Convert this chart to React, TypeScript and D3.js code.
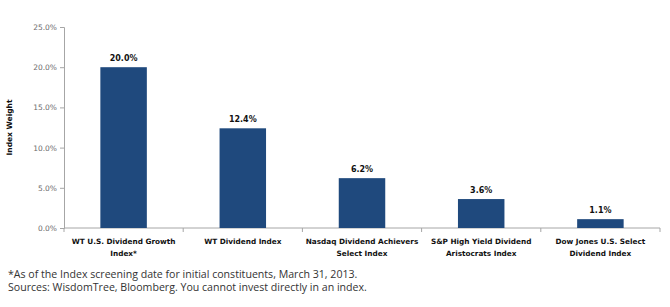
import { useEffect, useRef } from "react";
import * as d3 from "d3";

// index weights, percent
const categories = [
  ["WT U.S. Dividend  Growth", "Index*"],
  ["WT Dividend  Index"],
  ["Nasdaq Dividend  Achievers", "Select Index"],
  ["S&P High Yield Dividend", "Aristocrats Index"],
  ["Dow Jones U.S. Select", "Dividend Index"],
];
const weights = [20.0, 12.4, 6.2, 3.6, 1.1];
const yTicks = [0, 5, 10, 15, 20, 25];
const footnotes = [
  "*As of the Index screening date for initial constituents, March 31, 2013.",
  "Sources: WisdomTree, Bloomberg. You cannot invest directly in an index.",
];

function App() {
  const svgRef = useRef<SVGSVGElement>(null);

  useEffect(() => {
    const w = 670;
    const h = 307;
    const left = 64;
    const right = 660;
    const top = 27;
    const bottom = 228;
    const font = "'DejaVu Sans', sans-serif";

    const svg = d3.select(svgRef.current).attr("width", w).attr("height", h);
    svg.selectAll("*").remove();
    svg.append("rect").attr("width", w).attr("height", h).attr("fill", "#fff");

    const x = d3
      .scaleBand()
      .domain(categories.map((_, i) => String(i)))
      .range([left, right])
      .paddingInner(0.61)
      .paddingOuter(0.305);
    const y = d3.scaleLinear().domain([0, 25]).range([bottom, top]);

    // y axis
    const yAxis = d3
      .axisLeft(y)
      .tickValues(yTicks)
      .tickSize(4)
      .tickFormat((d) => `${(+d).toFixed(1)}%`);
    const gy = svg.append("g").attr("transform", `translate(${left},0)`).call(yAxis);
    gy.select(".domain").attr("stroke", "#a6a6a6");
    gy.selectAll(".tick line").attr("stroke", "#a6a6a6");
    gy.selectAll(".tick text")
      .attr("fill", "#6b6b6b")
      .attr("font-size", 7.5)
      .attr("font-family", font)
      .attr("x", -7);

    // x axis with boundary ticks
    svg
      .append("line")
      .attr("x1", left)
      .attr("x2", right)
      .attr("y1", bottom)
      .attr("y2", bottom)
      .attr("stroke", "#a6a6a6");
    const step = x.step();
    const boundaries = d3.range(categories.length + 1).map((i) => left + i * step);
    svg
      .append("g")
      .selectAll("line")
      .data(boundaries)
      .join("line")
      .attr("x1", (d) => d)
      .attr("x2", (d) => d)
      .attr("y1", bottom)
      .attr("y2", bottom + 4)
      .attr("stroke", "#a6a6a6");

    // bars
    svg
      .append("g")
      .selectAll("rect")
      .data(weights)
      .join("rect")
      .attr("x", (_, i) => x(String(i))!)
      .attr("width", x.bandwidth())
      .attr("y", (d) => y(d))
      .attr("height", (d) => bottom - y(d))
      .attr("fill", "#1f497d");

    // value labels
    svg
      .append("g")
      .selectAll("text")
      .data(weights)
      .join("text")
      .attr("x", (_, i) => x(String(i))! + x.bandwidth() / 2)
      .attr("y", (d) => y(d) - 6)
      .attr("text-anchor", "middle")
      .attr("font-size", 8)
      .attr("font-weight", "bold")
      .attr("font-family", font)
      .attr("fill", "#111")
      .text((d) => `${d.toFixed(1)}%`);

    // category labels
    const cat = svg
      .append("g")
      .selectAll("text")
      .data(categories)
      .join("text")
      .attr("x", (_, i) => x(String(i))! + x.bandwidth() / 2)
      .attr("y", bottom + 16)
      .attr("text-anchor", "middle")
      .attr("font-size", 7.3)
      .attr("font-weight", "bold")
      .attr("font-family", font)
      .attr("fill", "#111");
    cat
      .selectAll("tspan")
      .data((d) => d)
      .join("tspan")
      .attr("x", function () {
        return (this.parentNode as SVGTextElement).getAttribute("x");
      })
      .attr("dy", (_, j) => (j === 0 ? 0 : 11.5))
      .text((d) => d);

    // y title
    svg
      .append("text")
      .attr("transform", `translate(12,${(top + bottom) / 2}) rotate(-90)`)
      .attr("text-anchor", "middle")
      .attr("font-size", 7.5)
      .attr("font-weight", "bold")
      .attr("font-family", font)
      .attr("fill", "#111")
      .text("Index Weight");

    // footnotes
    svg
      .append("g")
      .selectAll("text")
      .data(footnotes)
      .join("text")
      .attr("x", 8)
      .attr("y", (_, i) => 277.5 + i * 13.5)
      .attr("font-size", 10.6)
      .attr("font-family", "'Open Sans', 'Noto Sans', sans-serif")
      .attr("fill", "#333")
      .text((d) => d);
  }, []);

  return <svg ref={svgRef} style={{ position: "absolute", left: 0, top: 0, display: "block" }}></svg>;
}

export default App;
